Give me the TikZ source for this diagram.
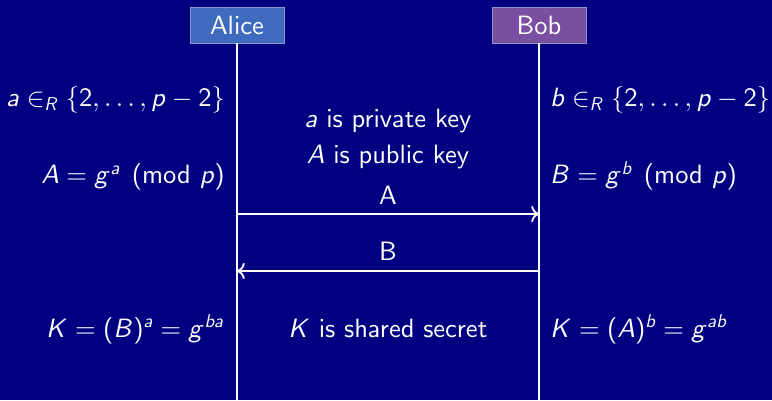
\documentclass[tikz,border=0pt]{standalone}
\usepackage{amsmath}
\usepackage{xcolor}
\usetikzlibrary{arrows.meta}

% cm sans at its 10pt design, scaled to any size
\DeclareFontFamily{OT1}{cmssx}{}
\DeclareFontShape{OT1}{cmssx}{m}{n}{<->cmss10}{}
\DeclareFontShape{OT1}{cmssx}{m}{sl}{<->cmssi10}{}
\DeclareFontShape{OT1}{cmssx}{m}{it}{<->ssub*cmssx/m/sl}{}
\DeclareFontFamily{OML}{cmmx}{\skewchar\font127}
\DeclareFontShape{OML}{cmmx}{m}{it}{<->cmmi10}{}
\DeclareFontFamily{OMS}{cmsyx}{\skewchar\font48}
\DeclareFontShape{OMS}{cmsyx}{m}{n}{<->cmsy10}{}

% sans serif math, as on the slides
\DeclareSymbolFont{operators}{OT1}{cmssx}{m}{n}
\DeclareSymbolFont{letters}{OML}{cmmx}{m}{it}
\DeclareSymbolFont{symbols}{OMS}{cmsyx}{m}{n}
\DeclareSymbolFont{sfletters}{OT1}{cmssx}{m}{sl}
\DeclareMathSymbol{a}{\mathalpha}{sfletters}{`a}
\DeclareMathSymbol{b}{\mathalpha}{sfletters}{`b}
\DeclareMathSymbol{g}{\mathalpha}{sfletters}{`g}
\DeclareMathSymbol{p}{\mathalpha}{sfletters}{`p}
\DeclareMathSymbol{A}{\mathalpha}{sfletters}{`A}
\DeclareMathSymbol{B}{\mathalpha}{sfletters}{`B}
\DeclareMathSymbol{K}{\mathalpha}{sfletters}{`K}
\DeclareMathSymbol{R}{\mathalpha}{sfletters}{`R}

\definecolor{slidebg}{RGB}{0,0,128}
\definecolor{alicebox}{RGB}{62,107,190}
\definecolor{bobbox}{RGB}{122,78,160}
\definecolor{boxline}{RGB}{140,150,205}

\begin{document}
\begin{tikzpicture}[x=1pt,y=-1pt,
  font=\fontencoding{OT1}\fontfamily{cmssx}\fontsize{26.5}{32}\selectfont,text=white,
  party/.style={draw=boxline,line width=0.8pt,minimum width=94pt,minimum height=36pt,inner sep=0pt},
  lifeline/.style={draw=white,line width=1.8pt},
  msg/.style={draw=white,line width=1.8pt,-{To[scale=1.4]}},
  note/.style={inner sep=0pt}]
\fill[slidebg] (0,0) rectangle (772,400);

% the two parties and their lifelines
\node[party,fill=alicebox] (alice) at (237,25) {Alice};
\node[party,fill=bobbox] (bob) at (539,25) {Bob};
\coordinate (aliceEnd) at (237,400);
\coordinate (bobEnd) at (539,400);
\draw[lifeline] (alice) -- (aliceEnd);
\draw[lifeline] (bob) -- (bobEnd);

% exchanged values
\coordinate (aliceA) at (237,214);
\coordinate (bobA) at (539,214);
\coordinate (aliceB) at (237,271);
\coordinate (bobB) at (539,271);
\draw[msg] (aliceA) -- node[midway,above=9pt,inner sep=0pt] {A} (bobA);
\draw[msg] (bobB) -- node[midway,above=9.5pt,inner sep=0pt] {B} (aliceB);

% Alice's side
\node[note,anchor=base east] (aliceChoice) at (225,107) {$a \in_R \{2,\ldots,p-2\}$};
\node[note,anchor=base east] (alicePub) at (225,184) {$A = g^a \pmod p$};
\node[note,anchor=base east] (aliceKey) at (224,337) {$K = (B)^a = g^{ba}$};

% Bob's side
\node[note,anchor=base west] (bobChoice) at (550,107) {$b \in_R \{2,\ldots,p-2\}$};
\node[note,anchor=base west] (bobPub) at (550,184) {$B = g^b \pmod p$};
\node[note,anchor=base west] (bobKey) at (550,337) {$K = (A)^b = g^{ab}$};

% remarks in between
\node[note,anchor=base] (privNote) at (388,128) {$a$ is private key};
\node[note,anchor=base] (pubNote) at (388,164) {$A$ is public key};
\node[note,anchor=base] (keyNote) at (388,337) {$K$ is shared secret};
\end{tikzpicture}
\end{document}
